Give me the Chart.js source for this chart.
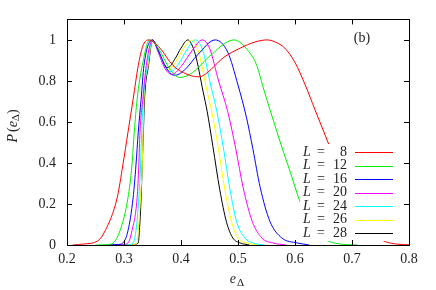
<!DOCTYPE html>
<html lang="en">
<head>
    <meta charset="UTF-8">
    <title>P(e_Delta)</title>
    <script src="https://cdn.jsdelivr.net/npm/chart.js"></script>
    <style>
        html, body { margin: 0; padding: 0; background: #ffffff; }
        #wrap { width: 436px; height: 290px; }
    </style>
</head>
<body>
    <div id="wrap"><canvas id="grafico" width="436" height="290"></canvas></div>

    <script>
        // system sizes (legend)
        const sizes = ['8', '12', '16', '20', '24', '26', '28'];

        // tick values and labels
        const xTicks = [0.2, 0.3, 0.4, 0.5, 0.6, 0.7, 0.8];
        const xTickLabels = ['0.2', '0.3', '0.4', '0.5', '0.6', '0.7', '0.8'];
        const yTicks = [0, 0.2, 0.4, 0.6, 0.8, 1];
        const yTickLabels = ['0', '0.2', '0.4', '0.6', '0.8', '1'];

        // e_Delta / P(e_Delta)
        const eL8 = [0.21, 0.23, 0.254, 0.267, 0.288, 0.298, 0.307, 0.316, 0.325, 0.333, 0.343, 0.363, 0.386, 0.416, 0.432, 0.446, 0.474, 0.504, 0.53, 0.551, 0.565, 0.582, 0.60, 0.618, 0.635, 0.653, 0.67, 0.685, 0.70, 0.72, 0.74, 0.76, 0.78, 0.80];
        const pL8 = [0, 0.005, 0.02, 0.07, 0.23, 0.39, 0.55, 0.71, 0.875, 0.97, 1.0, 0.96, 0.875, 0.827, 0.82, 0.84, 0.913, 0.96, 0.99, 1.0, 0.99, 0.96, 0.89, 0.78, 0.66, 0.535, 0.415, 0.31, 0.21, 0.11, 0.045, 0.015, 0.004, 0.001];

        const eL12 = [0.25, 0.27, 0.281, 0.293, 0.307, 0.314, 0.318, 0.323, 0.332, 0.345, 0.36, 0.38, 0.398, 0.42, 0.45, 0.493, 0.517, 0.533, 0.544, 0.556, 0.568, 0.579, 0.59, 0.609, 0.625, 0.64, 0.655, 0.67, 0.69, 0.71];
        const pL12 = [0, 0.002, 0.01, 0.07, 0.23, 0.39, 0.55, 0.71, 0.875, 1.0, 0.96, 0.86, 0.817, 0.84, 0.92, 1.0, 0.95, 0.875, 0.77, 0.66, 0.555, 0.46, 0.37, 0.21, 0.115, 0.055, 0.024, 0.009, 0.002, 0];

        const eL16 = [0.27, 0.288, 0.298, 0.307, 0.316, 0.321, 0.325, 0.330, 0.335, 0.350, 0.36, 0.375, 0.389, 0.405, 0.43, 0.46, 0.482, 0.50, 0.515, 0.526, 0.539, 0.556, 0.577, 0.604, 0.625];
        const pL16 = [0, 0.002, 0.01, 0.07, 0.23, 0.39, 0.55, 0.71, 0.875, 1.0, 0.95, 0.86, 0.827, 0.85, 0.93, 1.0, 0.94, 0.78, 0.62, 0.47, 0.28, 0.115, 0.034, 0.01, 0];

        const eL20 = [0.28, 0.298, 0.307, 0.314, 0.323, 0.326, 0.328, 0.333, 0.339, 0.350, 0.36, 0.372, 0.384, 0.40, 0.42, 0.437, 0.45, 0.466, 0.482, 0.496, 0.509, 0.525, 0.542, 0.561, 0.585];
        const pL20 = [0, 0.002, 0.01, 0.07, 0.23, 0.39, 0.55, 0.71, 0.875, 1.0, 0.94, 0.86, 0.832, 0.87, 0.95, 1.0, 0.96, 0.80, 0.65, 0.47, 0.28, 0.115, 0.034, 0.01, 0];

        const eL24 = [0.29, 0.308, 0.316, 0.321, 0.326, 0.329, 0.331, 0.334, 0.341, 0.350, 0.36, 0.371, 0.382, 0.395, 0.41, 0.425, 0.438, 0.452, 0.463, 0.474, 0.486, 0.498, 0.512, 0.526, 0.545];
        const pL24 = [0, 0.002, 0.01, 0.07, 0.23, 0.39, 0.55, 0.71, 0.875, 1.0, 0.94, 0.87, 0.846, 0.88, 0.95, 1.0, 0.95, 0.78, 0.65, 0.48, 0.27, 0.11, 0.034, 0.01, 0];

        const eL26 = [0.30, 0.315, 0.323, 0.325, 0.329, 0.332, 0.3335, 0.335, 0.342, 0.350, 0.36, 0.369, 0.379, 0.39, 0.405, 0.419, 0.43, 0.445, 0.454, 0.465, 0.477, 0.489, 0.50, 0.516, 0.535];
        const pL26 = [0, 0.002, 0.01, 0.07, 0.23, 0.39, 0.55, 0.71, 0.875, 1.0, 0.95, 0.88, 0.856, 0.89, 0.96, 1.0, 0.95, 0.76, 0.65, 0.48, 0.27, 0.11, 0.034, 0.01, 0];

        const eL28 = [0.30, 0.315, 0.325, 0.327, 0.330, 0.332, 0.334, 0.336, 0.343, 0.350, 0.36, 0.368, 0.377, 0.39, 0.40, 0.412, 0.425, 0.439, 0.446, 0.456, 0.468, 0.48, 0.491, 0.504, 0.52];
        const pL28 = [0, 0.002, 0.01, 0.07, 0.23, 0.39, 0.55, 0.71, 0.875, 1.0, 0.95, 0.89, 0.865, 0.91, 0.96, 1.0, 0.93, 0.745, 0.65, 0.48, 0.27, 0.11, 0.034, 0.01, 0];

        const allE = [eL8, eL12, eL16, eL20, eL24, eL26, eL28];
        const allP = [pL8, pL12, pL16, pL20, pL24, pL26, pL28];
        const colores = ['#ff0000', '#00ee00', '#0000ff', '#ff00ff', '#00ffff', '#ffff00', '#000000'];

        const SERIF = '"Liberation Serif", "DejaVu Serif", serif';
        const INK = '#222222';

        const datasets = sizes.map((L, k) => ({
            label: 'L = ' + L,
            data: allE[k].map((x, i) => ({ x: x, y: allP[k][i] })),
            borderColor: colores[k],
            borderWidth: 1,
            showLine: true,
            pointRadius: 0,
            fill: false,
            cubicInterpolationMode: 'monotone'
        }));

        // legend with white box, frame, inward ticks and titles
        const leyenda = {
            id: 'leyenda',
            afterDatasetsDraw(chart) {
                const ctx = chart.ctx;
                ctx.save();
                ctx.fillStyle = '#ffffff';
                ctx.fillRect(300, 144, 100, 97);
                ctx.textBaseline = 'middle';
                sizes.forEach((L, k) => {
                    const y = 152 + k * 13.5;
                    ctx.fillStyle = INK;
                    ctx.font = 'italic 14px ' + SERIF;
                    ctx.textAlign = 'left';
                    ctx.fillText('L', 303, y);
                    ctx.font = '14px ' + SERIF;
                    ctx.fillText('=', 317, y);
                    ctx.textAlign = 'right';
                    ctx.fillText(L, 347, y);
                    ctx.strokeStyle = colores[k];
                    ctx.lineWidth = 1;
                    ctx.beginPath();
                    ctx.moveTo(355, Math.round(y) + 0.5);
                    ctx.lineTo(393, Math.round(y) + 0.5);
                    ctx.stroke();
                });
                ctx.restore();
            },
            afterDraw(chart) {
                const ctx = chart.ctx;
                const a = chart.chartArea;
                const sx = chart.scales.x, sy = chart.scales.y;
                ctx.save();
                ctx.strokeStyle = '#000000';
                ctx.lineWidth = 1;
                ctx.strokeRect(Math.round(a.left) + 0.5, Math.round(a.top) + 0.5,
                    Math.round(a.right - a.left), Math.round(a.bottom - a.top));
                ctx.beginPath();
                xTicks.forEach(v => {
                    const px = Math.round(sx.getPixelForValue(v)) + 0.5;
                    ctx.moveTo(px, a.bottom); ctx.lineTo(px, a.bottom - 5);
                    ctx.moveTo(px, a.top); ctx.lineTo(px, a.top + 5);
                });
                yTicks.forEach(v => {
                    const py = Math.round(sy.getPixelForValue(v)) + 0.5;
                    ctx.moveTo(a.left, py); ctx.lineTo(a.left + 5, py);
                    ctx.moveTo(a.right, py); ctx.lineTo(a.right - 5, py);
                });
                ctx.stroke();

                // panel label
                ctx.fillStyle = INK;
                ctx.font = '14px ' + SERIF;
                ctx.textAlign = 'center';
                ctx.textBaseline = 'middle';
                ctx.fillText('(b)', 362, 38);

                // x title e_Delta
                ctx.font = 'italic 14px ' + SERIF;
                ctx.textAlign = 'right';
                ctx.fillText('e', 236, 279);
                ctx.font = '11px ' + SERIF;
                ctx.textAlign = 'left';
                ctx.fillText('\u0394', 237, 283);

                // y title P(e_Delta)
                ctx.translate(13, 126);
                ctx.rotate(-Math.PI / 2);
                ctx.textAlign = 'left';
                const parts = [
                    ['P', 'italic 14px ', 0, 2], ['(', '14px ', 0, 0], ['e', 'italic 14px ', 0, 0],
                    ['\u0394', '11px ', 3, 0], [')', '14px ', 0, 0]
                ];
                let total = 0;
                parts.forEach(p => { ctx.font = p[1] + SERIF; total += ctx.measureText(p[0]).width + p[3]; });
                let w = -total / 2;
                parts.forEach(p => {
                    ctx.font = p[1] + SERIF;
                    ctx.fillText(p[0], w, p[2]);
                    w += ctx.measureText(p[0]).width + p[3];
                });
                ctx.restore();
            }
        };

        const ctx = document.getElementById('grafico').getContext('2d');
        new Chart(ctx, {
            type: 'scatter',
            data: { datasets: datasets },
            plugins: [leyenda],
            options: {
                responsive: false,
                animation: false,
                layout: { padding: { left: 0, right: 27, top: 16, bottom: 0 } },
                plugins: { legend: { display: false }, tooltip: { enabled: false } },
                scales: {
                    x: {
                        type: 'linear',
                        min: 0.2,
                        max: 0.8,
                        grid: { display: false, drawTicks: false },
                        border: { display: false },
                        afterBuildTicks: s => { s.ticks = xTicks.map(v => ({ value: v })); },
                        afterFit: s => { s.height = 45; },
                        ticks: {
                            color: INK,
                            padding: 6,
                            maxRotation: 0,
                            font: { family: SERIF, size: 14 },
                            callback: (v, i) => xTickLabels[i]
                        }
                    },
                    y: {
                        type: 'linear',
                        min: 0,
                        max: 1.1,
                        grid: { display: false, drawTicks: false },
                        border: { display: false },
                        afterBuildTicks: s => { s.ticks = yTicks.map(v => ({ value: v })); },
                        afterFit: s => { s.width = 67; },
                        ticks: {
                            color: INK,
                            padding: 11,
                            font: { family: SERIF, size: 14 },
                            callback: (v, i) => yTickLabels[i]
                        }
                    }
                }
            }
        });
    </script>
</body>
</html>
